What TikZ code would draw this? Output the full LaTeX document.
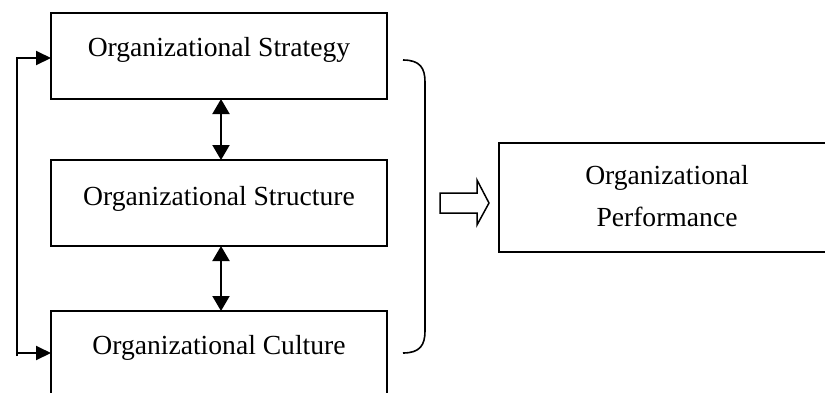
\documentclass[tikz,border=0pt]{standalone}
\usepackage{fontspec}
\setmainfont{Liberation Serif}
\usetikzlibrary{arrows.meta}
\begin{document}
\begin{tikzpicture}[x=1pt,y=-1pt,
  box/.style={draw,line width=1.8pt},
  lbl/.style={inner sep=0pt,anchor=base,font=\fontsize{27.6}{32}\selectfont},
  link/.style={line width=2pt},
  dbl/.style={link,{Triangle[length=15pt,width=17pt]}-{Triangle[length=15pt,width=17pt]}},
  feed/.style={link,-{Triangle[length=15pt,width=14pt]}}]
\useasboundingbox (0,0) rectangle (825,392);
\clip (0,0) rectangle (825,392);
% the three component boxes
\path[box] (51,13) rectangle (387,99);
\path[box] (51,160) rectangle (387,246);
\path[box] (51,311) rectangle (387,400);
\coordinate (s1) at (221,99);
\coordinate (n2) at (221,160);
\coordinate (s2) at (221,246);
\coordinate (n3) at (221,311);
\node[lbl] (strat) at (219,56) {Organizational Strategy};
\node[lbl] (struc) at (219,205) {Organizational Structure};
\node[lbl] (cult) at (219,354) {Organizational Culture};
% two-way links between neighbouring boxes
\draw[dbl] (s1) -- (n2);
\draw[dbl] (s2) -- (n3);
% feedback line from culture back to strategy
\coordinate (fb1) at (51,58);
\coordinate (fb2) at (51,353);
\coordinate (ft) at (17,58);
\coordinate (fm) at (17,353);
\coordinate (fbot) at (17,356);
\draw[link] (fbot) -- (ft);
\draw[feed] ([xshift=-1pt]ft) -- (fb1);
\draw[feed] (fm) -- (fb2);
% closing bracket grouping the three boxes
\draw[line width=1.6pt] (403,60) .. controls (420,60) and (425,68) .. (425,82)
  -- (425,331) .. controls (425,345) and (420,353) .. (403,353);
% hollow block arrow
\draw[line width=1.5pt] (440,193) -- (477,193) -- (477,180) -- (489,203)
  -- (477,225) -- (477,213) -- (440,213) -- cycle;
% outcome box
\path[box] (499,143) rectangle (840,252);
\node[lbl] (perf1) at (667,184) {Organizational};
\node[lbl] (perf2) at (667,226) {Performance};
\end{tikzpicture}
\end{document}
